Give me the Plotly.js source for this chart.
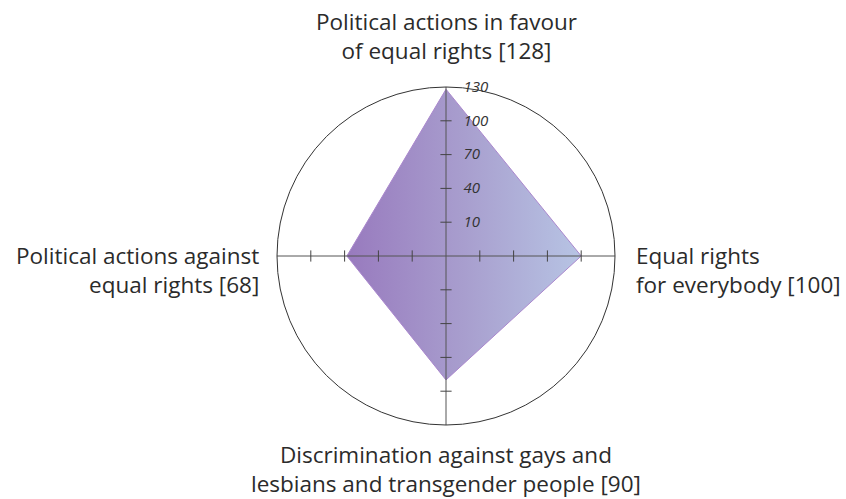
<!DOCTYPE html>
<html>
<head>
<meta charset="utf-8">
<script src="https://cdn.plot.ly/plotly-3.0.1.min.js"></script>
<style>
html,body{margin:0;padding:0;background:#fff;}
#chart{width:846px;height:499px;}
</style>
</head>
<body>
<div id="chart"></div>
<script>
// ---- data ----
const categories = [
  "Political actions in favour of equal rights",
  "Equal rights for everybody",
  "Discrimination against gays and lesbians and transgender people",
  "Political actions against equal rights"
];
const values = [128, 100, 90, 68];
const labelLines = [
  ["Political actions in favour", "of equal rights [128]"],
  ["Equal rights", "for everybody [100]"],
  ["Discrimination against gays and", "lesbians and transgender people [90]"],
  ["Political actions against", "equal rights [68]"]
];
const radialRange = [-20, 130];
const tickVals = [10, 40, 70, 100, 130];
const minorTickVals = [10, 40, 70, 100];

// ---- traces ----
const FONT = "Open Sans";
const polyTheta = categories.concat([categories[0]]);
const polyR = values.concat([values[0]]);

const traces = [];
traces.push({
  type: "scatterpolar", mode: "lines",
  theta: polyTheta, r: polyR,
  fill: "toself", fillcolor: "rgb(168,160,208)",
  line: {color: "rgb(170,135,205)", width: 1},
  hoverinfo: "skip", showlegend: false
});
// spokes (diameters)
traces.push({
  type: "scatterpolar", mode: "lines",
  theta: [categories[0], categories[2]], r: [radialRange[1], radialRange[1]],
  line: {color: "#555", width: 1}, hoverinfo: "skip", showlegend: false
});
traces.push({
  type: "scatterpolar", mode: "lines",
  theta: [categories[1], categories[3]], r: [radialRange[1], radialRange[1]],
  line: {color: "#555", width: 1}, hoverinfo: "skip", showlegend: false
});
// tick marks on every spoke
const tkTheta = [], tkR = [], tkSym = [];
categories.forEach((c, i) => {
  minorTickVals.forEach(v => {
    tkTheta.push(c); tkR.push(v);
    tkSym.push(i % 2 === 0 ? "line-ew" : "line-ns");
  });
});
traces.push({
  type: "scatterpolar", mode: "markers",
  theta: tkTheta, r: tkR,
  marker: {symbol: tkSym, size: 8, color: "#444", line: {color: "#444", width: 1}},
  hoverinfo: "skip", showlegend: false
});

// ---- annotations for category labels ----
const W = 846, H = 499;
const labelPos = [
  {x: 446, y: 36, xanchor: "center", align: "center"},
  {x: 634, y: 270, xanchor: "left", align: "left"},
  {x: 446, y: 469, xanchor: "center", align: "center"},
  {x: 261, y: 270, xanchor: "right", align: "right"}
];
const annotations = labelLines.map((lines, i) => ({
  xref: "paper", yref: "paper",
  x: labelPos[i].x / W, y: 1 - labelPos[i].y / H,
  xanchor: labelPos[i].xanchor, yanchor: "middle", align: labelPos[i].align,
  text: lines.join("<br>"), showarrow: false,
  font: {family: FONT, size: 22.5, color: "#2b2b2b"}
}));

const cx = 446, cy = 256, rad = 169;
const layout = {
  width: W, height: H,
  margin: {l: 0, r: 0, t: 0, b: 0},
  paper_bgcolor: "#fff",
  showlegend: false,
  annotations: annotations,
  polar: {
    domain: {x: [(cx - rad) / W, (cx + rad) / W], y: [(H - cy - rad) / H, (H - cy + rad) / H]},
    bgcolor: "rgba(0,0,0,0)",
    angularaxis: {
      type: "category", categoryarray: categories,
      rotation: 90, direction: "clockwise",
      showline: true, linecolor: "#333", linewidth: 1,
      showgrid: false, showticklabels: false, ticks: ""
    },
    radialaxis: {
      range: radialRange, angle: 90, tickangle: 90,
      tickvals: tickVals, ticktext: tickVals.map(String),
      showline: false, showgrid: false,
      ticks: "outside", ticklen: 14, tickcolor: "rgba(0,0,0,0)",
      tickfont: {family: FONT, size: 15, color: "#333", style: "italic"}
    }
  }
};

Plotly.newPlot("chart", traces, layout, {displayModeBar: false, staticPlot: true}).then(gd => {
  const svg = gd.querySelector("svg.main-svg");
  const ns = "http://www.w3.org/2000/svg";
  let defs = svg.querySelector("defs");
  if (!defs) { defs = document.createElementNS(ns, "defs"); svg.insertBefore(defs, svg.firstChild); }
  const grad = document.createElementNS(ns, "linearGradient");
  grad.setAttribute("id", "polyGrad");
  grad.setAttribute("x1", "0"); grad.setAttribute("x2", "1");
  grad.setAttribute("y1", "0"); grad.setAttribute("y2", "0");
  [["0%", "rgb(152,122,190)"], ["50%", "rgb(168,158,206)"], ["100%", "rgb(183,196,228)"]].forEach(([o, c]) => {
    const s = document.createElementNS(ns, "stop");
    s.setAttribute("offset", o); s.setAttribute("stop-color", c);
    grad.appendChild(s);
  });
  defs.appendChild(grad);
  const fillPath = gd.querySelector(".polarlayer path.js-fill");
  if (fillPath) fillPath.style.fill = "url(#polyGrad)";
});
</script>
</body>
</html>
